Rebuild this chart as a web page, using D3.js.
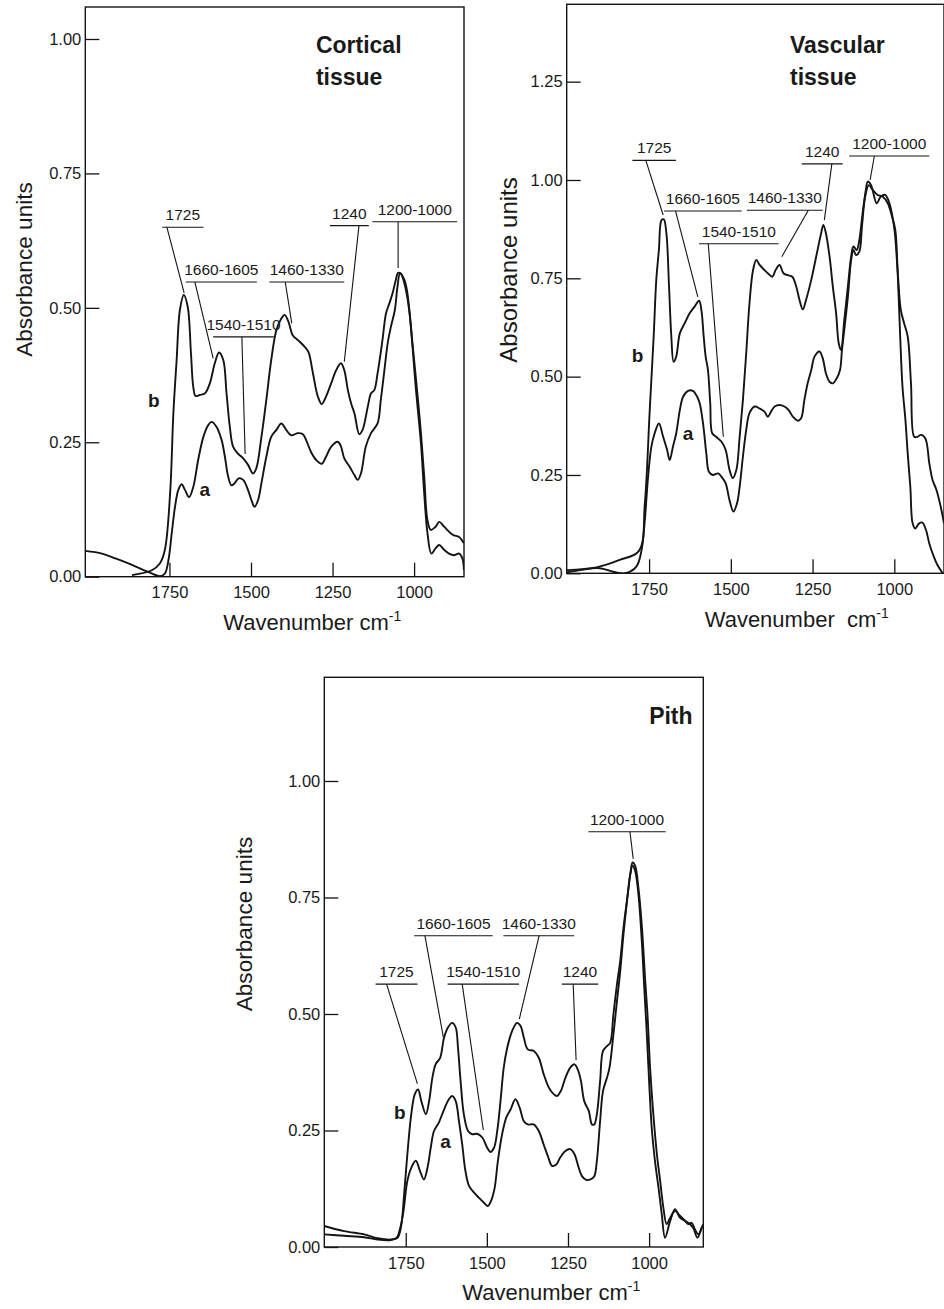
<!DOCTYPE html>
<html>
<head>
<meta charset="utf-8">
<script src="https://cdn.jsdelivr.net/npm/d3@7"></script>
<style>
  body { margin: 0; background: #fff; }
  text { font-family: "Liberation Sans", Arial, sans-serif; fill: #1a1a1a; }
</style>
</head>
<body>
<div id="chart"></div>
<script>

// spectra, [wavenumber, absorbance]
var cortical_a = [[2008,0.048],[1957,0.043],[1916,0.034],[1865,0.022],[1815,0.009],[1779,0.001],[1764,0.006],[1753,0.031],[1743,0.081],[1733,0.130],[1723,0.161],[1713,0.172],[1702,0.161],[1690,0.148],[1677,0.167],[1662,0.217],[1646,0.260],[1631,0.282],[1621,0.288],[1606,0.279],[1590,0.254],[1580,0.223],[1570,0.186],[1560,0.170],[1550,0.174],[1538,0.183],[1524,0.180],[1509,0.161],[1499,0.143],[1489,0.130],[1478,0.143],[1468,0.174],[1453,0.223],[1438,0.260],[1422,0.273],[1407,0.285],[1392,0.273],[1377,0.263],[1356,0.267],[1341,0.265],[1331,0.254],[1316,0.232],[1300,0.217],[1283,0.210],[1270,0.223],[1254,0.242],[1234,0.251],[1224,0.242],[1214,0.220],[1198,0.205],[1183,0.189],[1173,0.180],[1163,0.192],[1148,0.242],[1132,0.267],[1112,0.285],[1102,0.329],[1091,0.384],[1081,0.434],[1071,0.465],[1059,0.496],[1051,0.539],[1043,0.564],[1032,0.555],[1022,0.533],[1010,0.465],[995,0.353],[979,0.248],[969,0.155],[959,0.081],[947,0.043],[934,0.053],[923,0.059],[908,0.050],[893,0.043],[878,0.040],[862,0.043],[852,0.034],[847,0.012]];
var cortical_b = [[1865,0.003],[1804,0.012],[1779,0.025],[1764,0.050],[1748,0.155],[1738,0.304],[1728,0.403],[1718,0.496],[1706,0.524],[1694,0.502],[1684,0.415],[1677,0.353],[1670,0.336],[1657,0.338],[1641,0.341],[1626,0.360],[1611,0.397],[1598,0.417],[1585,0.403],[1575,0.341],[1565,0.279],[1555,0.242],[1540,0.229],[1524,0.220],[1509,0.208],[1494,0.192],[1484,0.201],[1468,0.260],[1453,0.329],[1438,0.403],[1422,0.459],[1407,0.480],[1397,0.487],[1385,0.474],[1372,0.449],[1356,0.440],[1336,0.428],[1324,0.418],[1310,0.378],[1295,0.335],[1283,0.321],[1270,0.335],[1254,0.360],[1239,0.384],[1224,0.397],[1214,0.384],[1203,0.347],[1193,0.322],[1183,0.304],[1168,0.265],[1158,0.273],[1142,0.316],[1132,0.341],[1122,0.347],[1112,0.378],[1097,0.440],[1086,0.490],[1076,0.508],[1066,0.527],[1056,0.552],[1049,0.565],[1041,0.564],[1030,0.546],[1015,0.496],[1005,0.434],[990,0.341],[979,0.267],[969,0.186],[959,0.105],[949,0.087],[934,0.093],[923,0.102],[908,0.093],[888,0.081],[878,0.077],[862,0.074],[847,0.062]];

var vascular_a = [[2002,0.002],[1962,0.008],[1901,0.013],[1860,0.004],[1824,0.000],[1789,0.017],[1773,0.059],[1763,0.136],[1753,0.246],[1743,0.322],[1733,0.356],[1720,0.381],[1707,0.347],[1695,0.314],[1687,0.288],[1677,0.322],[1667,0.356],[1656,0.415],[1646,0.449],[1631,0.464],[1616,0.464],[1603,0.449],[1595,0.432],[1585,0.381],[1575,0.305],[1567,0.258],[1555,0.250],[1539,0.254],[1529,0.246],[1516,0.229],[1504,0.186],[1492,0.157],[1481,0.178],[1473,0.220],[1463,0.297],[1453,0.364],[1443,0.407],[1427,0.424],[1412,0.419],[1397,0.411],[1387,0.398],[1377,0.411],[1366,0.424],[1351,0.428],[1336,0.424],[1323,0.415],[1310,0.398],[1295,0.388],[1285,0.394],[1275,0.441],[1265,0.483],[1254,0.517],[1244,0.551],[1229,0.564],[1219,0.547],[1209,0.508],[1198,0.487],[1188,0.483],[1176,0.496],[1166,0.517],[1160,0.568],[1153,0.619],[1142,0.703],[1132,0.797],[1125,0.822],[1117,0.809],[1107,0.818],[1099,0.881],[1089,0.958],[1078,0.987],[1066,0.975],[1051,0.962],[1036,0.958],[1020,0.941],[1007,0.907],[997,0.873],[990,0.771],[982,0.602],[975,0.475],[966,0.390],[959,0.305],[951,0.220],[944,0.127],[936,0.114],[924,0.127],[914,0.129],[903,0.110],[893,0.076],[883,0.051],[868,0.021],[852,0.000]];
var vascular_b = [[2002,0.008],[1911,0.015],[1840,0.034],[1781,0.057],[1763,0.178],[1748,0.415],[1736,0.602],[1728,0.746],[1720,0.822],[1712,0.898],[1705,0.900],[1697,0.864],[1689,0.729],[1682,0.602],[1675,0.538],[1667,0.551],[1656,0.610],[1641,0.636],[1626,0.661],[1611,0.678],[1597,0.693],[1590,0.669],[1583,0.602],[1577,0.551],[1570,0.517],[1563,0.432],[1557,0.356],[1545,0.347],[1529,0.335],[1516,0.314],[1504,0.263],[1494,0.242],[1483,0.263],[1473,0.347],[1463,0.441],[1453,0.559],[1443,0.686],[1432,0.771],[1422,0.797],[1412,0.784],[1397,0.771],[1387,0.763],[1373,0.754],[1363,0.771],[1351,0.784],[1339,0.763],[1326,0.758],[1312,0.754],[1300,0.729],[1290,0.695],[1280,0.671],[1270,0.695],[1254,0.746],[1239,0.805],[1224,0.864],[1217,0.886],[1209,0.864],[1198,0.805],[1188,0.729],[1178,0.661],[1170,0.585],[1163,0.568],[1153,0.644],[1142,0.729],[1132,0.805],[1125,0.831],[1115,0.822],[1107,0.847],[1097,0.915],[1087,0.975],[1081,0.996],[1071,0.987],[1054,0.941],[1041,0.958],[1028,0.962],[1015,0.941],[1000,0.877],[990,0.771],[980,0.669],[970,0.636],[959,0.602],[949,0.483],[939,0.347],[929,0.347],[919,0.352],[905,0.343],[893,0.280],[883,0.237],[871,0.212],[858,0.169],[848,0.127]];

var pith_a = [[2001,0.027],[1940,0.024],[1878,0.021],[1837,0.016],[1796,0.015],[1778,0.020],[1767,0.041],[1757,0.077],[1745,0.142],[1733,0.170],[1719,0.185],[1706,0.163],[1694,0.145],[1683,0.170],[1673,0.213],[1663,0.249],[1648,0.267],[1632,0.295],[1617,0.317],[1607,0.324],[1596,0.313],[1586,0.270],[1576,0.220],[1566,0.163],[1555,0.131],[1540,0.117],[1525,0.106],[1509,0.095],[1497,0.088],[1487,0.099],[1476,0.127],[1466,0.185],[1453,0.242],[1440,0.278],[1427,0.295],[1412,0.317],[1399,0.299],[1386,0.270],[1374,0.263],[1356,0.263],[1340,0.249],[1325,0.220],[1312,0.195],[1299,0.174],[1286,0.177],[1274,0.192],[1258,0.206],[1243,0.210],[1230,0.199],[1217,0.170],[1207,0.152],[1194,0.144],[1181,0.145],[1169,0.152],[1161,0.185],[1151,0.270],[1142,0.335],[1130,0.363],[1122,0.385],[1110,0.456],[1099,0.528],[1089,0.592],[1079,0.671],[1067,0.750],[1058,0.800],[1051,0.818],[1043,0.807],[1033,0.757],[1022,0.650],[1015,0.557],[1007,0.456],[1000,0.356],[992,0.256],[982,0.185],[971,0.127],[961,0.070],[951,0.020],[935,0.056],[920,0.081],[905,0.063],[889,0.056],[874,0.049],[864,0.041],[851,0.020],[838,0.041],[833,0.045]];
var pith_b = [[2001,0.045],[1940,0.034],[1878,0.027],[1837,0.019],[1796,0.016],[1776,0.019],[1765,0.041],[1755,0.113],[1745,0.199],[1733,0.285],[1722,0.328],[1712,0.338],[1702,0.313],[1688,0.285],[1678,0.313],[1668,0.363],[1658,0.392],[1644,0.406],[1632,0.449],[1620,0.471],[1607,0.481],[1596,0.471],[1589,0.428],[1581,0.356],[1571,0.285],[1558,0.249],[1545,0.242],[1530,0.243],[1514,0.235],[1499,0.213],[1489,0.204],[1478,0.213],[1468,0.249],[1458,0.313],[1448,0.385],[1437,0.428],[1422,0.464],[1407,0.481],[1396,0.474],[1386,0.449],[1374,0.424],[1356,0.421],[1340,0.406],[1325,0.371],[1309,0.342],[1294,0.328],[1284,0.324],[1272,0.335],[1258,0.363],[1243,0.385],[1230,0.392],[1220,0.381],[1210,0.356],[1200,0.313],[1186,0.292],[1176,0.263],[1169,0.263],[1161,0.285],[1151,0.356],[1142,0.421],[1130,0.431],[1120,0.438],[1110,0.499],[1099,0.564],[1089,0.614],[1079,0.685],[1067,0.750],[1058,0.800],[1051,0.825],[1043,0.818],[1033,0.771],[1022,0.685],[1012,0.571],[1005,0.499],[997,0.385],[987,0.285],[976,0.199],[966,0.142],[956,0.084],[946,0.049],[935,0.063],[920,0.077],[905,0.067],[889,0.056],[879,0.049],[869,0.052],[859,0.038],[848,0.027],[838,0.041],[833,0.049]];

// band labels: underline from x1 to x2 at height y, leader from (from, y) to the curve point
var cortical_notes = [
  {label: "1725", x1: 1772, x2: 1646, y: 0.650, from: 1758, to: [1705, 0.528]},
  {label: "1660-1605", x1: 1700, x2: 1482, y: 0.548, from: 1672, to: [1616, 0.406]},
  {label: "1540-1510", x1: 1616, x2: 1430, y: 0.446, from: 1528, to: [1518, 0.228]},
  {label: "1460-1330", x1: 1444, x2: 1214, y: 0.548, from: 1395, to: [1375, 0.471]},
  {label: "1240", x1: 1258, x2: 1139, y: 0.653, from: 1169, to: [1214, 0.400]},
  {label: "1200-1000", x1: 1128, x2: 868, y: 0.660, from: 1049, to: [1049, 0.574]}
];
var vascular_notes = [
  {label: "1725", x1: 1801, x2: 1668, y: 1.050, from: 1760, to: [1707, 0.911]},
  {label: "1660-1605", x1: 1704, x2: 1467, y: 0.921, from: 1669, to: [1601, 0.703]},
  {label: "1540-1510", x1: 1597, x2: 1354, y: 0.838, from: 1569, to: [1523, 0.347]},
  {label: "1460-1330", x1: 1451, x2: 1219, y: 0.923, from: 1263, to: [1344, 0.805]},
  {label: "1240", x1: 1283, x2: 1158, y: 1.041, from: 1191, to: [1214, 0.898]},
  {label: "1200-1000", x1: 1138, x2: 893, y: 1.061, from: 1061, to: [1074, 1.000]}
];
var pith_notes = [
  {label: "1725", x1: 1843, x2: 1714, y: 0.564, from: 1809, to: [1714, 0.350]},
  {label: "1660-1605", x1: 1724, x2: 1482, y: 0.668, from: 1691, to: [1634, 0.450]},
  {label: "1540-1510", x1: 1621, x2: 1401, y: 0.564, from: 1576, to: [1511, 0.251]},
  {label: "1460-1330", x1: 1449, x2: 1231, y: 0.668, from: 1339, to: [1400, 0.489]},
  {label: "1240", x1: 1269, x2: 1157, y: 0.564, from: 1234, to: [1225, 0.401]},
  {label: "1200-1000", x1: 1187, x2: 949, y: 0.891, from: 1059, to: [1049, 0.833]}
];

var x_ticks = [1750, 1500, 1250, 1000];
var cortical_yticks = [0, 0.25, 0.5, 0.75, 1.0];
var vascular_yticks = [0, 0.25, 0.5, 0.75, 1.0, 1.25];
var pith_yticks = [0, 0.25, 0.5, 0.75, 1.0];

var panels = [
  {name: "cortical", left: 85.3, top: 7, width: 378.7, height: 569.7, wn: [2008, 847], top_abs: 1.0595,
   yticks: cortical_yticks, a: cortical_a, b: cortical_b, notes: cortical_notes,
   title: ["Cortical", "tissue"], title_at: [1301, 0.9745], title_anchor: "start",
   b_at: [1816, 0.316], a_at: [1658, 0.151],
   ylab: {dx: -53.6, cy: 262.5, size: 22.6}, xlab: "Wavenumber cm"},
  {name: "vascular", left: 566.7, top: 4.3, width: 377.3, height: 569, wn: [2002, 848], top_abs: 1.4467,
   yticks: vascular_yticks, a: vascular_a, b: vascular_b, notes: vascular_notes,
   title: ["Vascular", "tissue"], title_at: [1319, 1.322], title_anchor: "start",
   b_at: [1803, 0.536], a_at: [1647, 0.339],
   ylab: {dx: -50, cy: 265.7, size: 24}, xlab: "Wavenumber  cm"},
  {name: "pith", left: 324.3, top: 677.3, width: 379, height: 569.7, wn: [2001, 833], top_abs: 1.2225,
   yticks: pith_yticks, a: pith_a, b: pith_b, notes: pith_notes,
   title: ["Pith"], title_at: [866, 1.122], title_anchor: "end",
   b_at: [1786, 0.274], a_at: [1644, 0.213],
   ylab: {dx: -72.6, cy: 246.7, size: 22.6}, xlab: "Wavenumber cm"}
];

var ink = "#141414";

function make_panel(svg, p) {
  var x = d3.scaleLinear().domain(p.wn).range([0, p.width]);
  var y = d3.scaleLinear().domain([0, p.top_abs]).range([p.height, 0]);

  var g = svg.append("g")
    .attr("transform", "translate(" + p.left + "," + p.top + ")");

  g.append("clipPath").attr("id", "clip-" + p.name)
    .append("rect").attr("width", p.width).attr("height", p.height);

  // Y axis, ticks point inwards
  var ya = g.append("g")
    .call(d3.axisLeft(y).tickValues(p.yticks).tickFormat(d3.format(".2f"))
      .tickSizeInner(-14).tickSizeOuter(0).tickPadding(4));
  ya.select(".domain").remove();

  // X axis
  var xa = g.append("g")
    .attr("transform", "translate(0," + p.height + ")")
    .call(d3.axisBottom(x).tickValues(x_ticks).tickFormat(d3.format("d"))
      .tickSizeInner(-14).tickSizeOuter(0).tickPadding(10));
  xa.select(".domain").remove();

  g.selectAll(".tick line").attr("stroke", ink).attr("stroke-width", 1.3);
  g.selectAll(".tick text")
    .attr("fill", ink)
    .style("font-size", "16.5px")
    .style("font-family", '"Liberation Sans", Arial, sans-serif');

  // spectra
  var line = d3.line()
    .x(function(d) { return x(d[0]); })
    .y(function(d) { return y(d[1]); })
    .curve(d3.curveCatmullRom.alpha(0.5));

  g.append("g").attr("clip-path", "url(#clip-" + p.name + ")")
    .selectAll("path")
    .data([p.a, p.b])
    .enter()
    .append("path")
      .attr("d", line)
      .attr("fill", "none")
      .attr("stroke", ink)
      .attr("stroke-width", 1.9)
      .attr("stroke-linejoin", "round");

  // frame
  g.append("rect")
    .attr("width", p.width)
    .attr("height", p.height)
    .attr("fill", "none")
    .attr("stroke", ink)
    .attr("stroke-width", 1.4);

  // band annotations
  var notes = g.selectAll(".note").data(p.notes).enter().append("g").attr("class", "note");
  notes.append("line")
    .attr("x1", function(d) { return x(d.x1); })
    .attr("x2", function(d) { return x(d.x2); })
    .attr("y1", function(d) { return y(d.y); })
    .attr("y2", function(d) { return y(d.y); })
    .attr("stroke", ink).attr("stroke-width", 1.1);
  notes.append("line")
    .attr("x1", function(d) { return x(d.from); })
    .attr("y1", function(d) { return y(d.y); })
    .attr("x2", function(d) { return x(d.to[0]); })
    .attr("y2", function(d) { return y(d.to[1]); })
    .attr("stroke", ink).attr("stroke-width", 1.1);
  notes.append("text")
    .attr("x", function(d) { return (x(d.x1) + x(d.x2)) / 2; })
    .attr("y", function(d) { return y(d.y) - 7; })
    .attr("text-anchor", "middle")
    .style("font-size", "15.5px")
    .text(function(d) { return d.label; });

  // title
  var t = g.append("text")
    .attr("x", x(p.title_at[0]))
    .attr("y", y(p.title_at[1]))
    .attr("text-anchor", p.title_anchor)
    .style("font-size", "23px")
    .style("font-weight", "bold");
  t.selectAll("tspan").data(p.title).enter().append("tspan")
    .attr("x", x(p.title_at[0]))
    .attr("dy", function(d, i) { return i == 0 ? 0 : 32; })
    .text(function(d) { return d; });

  // curve letters
  g.append("text").attr("x", x(p.b_at[0])).attr("y", y(p.b_at[1]))
    .style("font-size", "19px").style("font-weight", "bold").text("b");
  g.append("text").attr("x", x(p.a_at[0])).attr("y", y(p.a_at[1]))
    .style("font-size", "19px").style("font-weight", "bold").text("a");

  // axis titles
  g.append("text")
    .attr("transform", "translate(" + p.ylab.dx + "," + p.ylab.cy + ")rotate(-90)")
    .attr("text-anchor", "middle")
    .style("font-size", p.ylab.size + "px")
    .text("Absorbance units");

  var xl = g.append("text")
    .attr("x", 138)
    .attr("y", p.height + 53.5)
    .style("font-size", "22px")
    .style("white-space", "pre")
    .text(p.xlab);
  xl.append("tspan").attr("dy", -9).style("font-size", "14px").text("-1");
}

var svg = d3.select("#chart")
  .append("svg")
    .attr("width", 944)
    .attr("height", 1309);

for (var i = 0; i < panels.length; i++) {
  make_panel(svg, panels[i]);
}

</script>
</body>
</html>
